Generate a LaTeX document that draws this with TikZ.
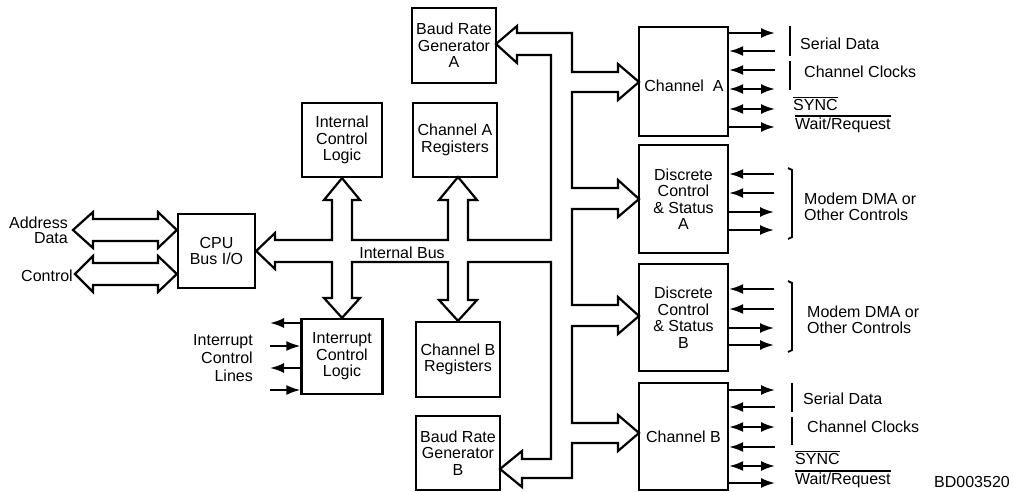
\documentclass[tikz,border=0pt]{standalone}
\usepackage{fontspec}
\setmainfont{Liberation Sans}
\usetikzlibrary{arrows.meta}
\newcommand\myovl[1]{\leavevmode\vbox{\hrule height 1.4pt\kern1.4pt\hbox{#1}}}
\begin{document}
\begin{tikzpicture}[x=1pt,y=-1pt,
  every node/.style={font=\fontsize{16}{16.5}\selectfont, inner sep=0pt},
  blk/.style={draw, line width=2.3pt, align=center},
  bus/.style={draw, line width=2.2pt, line join=miter},
  lbl/.style={anchor=west},
  sigo/.style={line width=2pt, -{Latex[length=14pt,width=10pt]}},
  sigi/.style={line width=2pt, {Latex[length=14pt,width=10pt]}-},
  sigb/.style={line width=2pt, {Latex[length=14pt,width=10pt]}-{Latex[length=14pt,width=10pt]}},
  brk/.style={line width=1.8pt}
]
\useasboundingbox (0,0) rectangle (1014,492);

% boxes
\node[blk, minimum width=77, minimum height=74] (cpu) at (216.5,251) {CPU\\Bus I/O};
\node[blk, minimum width=80, minimum height=74] (icl) at (342,140) {Internal\\Control\\Logic};
\node[blk, minimum width=84, minimum height=74] (car) at (455,140) {Channel A\\Registers};
\node[blk, minimum width=84, minimum height=75] (brga) at (454,45.5) {Baud Rate\\Generator\\A};
\node[blk, minimum width=81, minimum height=75] (int) at (342,356.5) {Interrupt\\Control\\Logic};
\node[blk, minimum width=84, minimum height=75] (cbr) at (458,359.5) {Channel B\\Registers};
\node[blk, minimum width=84, minimum height=74] (brgb) at (458,453) {Baud Rate\\Generator\\B};
\node[blk, minimum width=89, minimum height=109] (cha) at (683.5,81.5) {};
\node (chat) at (684,86) {Channel\ \ A};
\node[blk, minimum width=89, minimum height=108] (dca) at (683.5,199) {Discrete\\Control\\\& Status\\A};
\node[blk, minimum width=89, minimum height=107] (dcb) at (683.5,317.5) {Discrete\\Control\\\& Status\\B};
\node[blk, minimum width=89, minimum height=107] (chb) at (683.5,436.5) {Channel B};

% external CPU buses
\draw[bus] (73,230) -- (93,212) -- (93,219) -- (158,219) -- (158,212) -- (cpu.west |- 0,230)
  -- (158,248) -- (158,241) -- (93,241) -- (93,248) -- cycle;
\draw[bus] (75,274) -- (93,256) -- (93,263) -- (158,263) -- (158,256) -- (cpu.west |- 0,274)
  -- (158,292) -- (158,285) -- (93,285) -- (93,292) -- cycle;

% internal bus
\draw[bus] (275,240) -- (332,240) -- (332,200) -- (324,200) -- (icl.south) -- (360,200) -- (352,200)
  -- (352,240) -- (448,240) -- (448,200) -- (439,200) -- (458,177) -- (477,200) -- (468,200)
  -- (468,240) -- (551,240) -- (551,55) -- (517,55) -- (517,63) -- (496,44) -- (517,26) -- (517,33)
  -- (572,33) -- (572,72) -- (618,72) -- (618,64) -- (639,82) -- (618,100) -- (618,92) -- (572,92)
  -- (572,188) -- (618,188) -- (618,180) -- (639,199) -- (618,217) -- (618,209) -- (572,209)
  -- (572,305) -- (618,305) -- (618,297) -- (639,316) -- (618,334) -- (618,326) -- (572,326)
  -- (572,423) -- (618,423) -- (618,415) -- (639,433) -- (618,451) -- (618,443) -- (572,443)
  -- (572,478) -- (522,478) -- (522,487) -- (500,469) -- (522,451) -- (522,459) -- (551,459)
  -- (551,262) -- (468,262) -- (468,300) -- (477,300) -- (cbr.north) -- (439,300) -- (448,300)
  -- (448,262) -- (352,262) -- (352,298) -- (360,298) -- (int.north) -- (324,298) -- (332,298)
  -- (332,262) -- (275,262) -- (275,269) -- (cpu.east) -- (275,233) -- cycle;

% labels left
\node[anchor=east, align=right, font=\fontsize{16}{15}\selectfont] (adl) at (68,230) {Address\\Data};
\node[anchor=east] (ctl) at (73,276) {Control};
\node[anchor=east, align=right, font=\fontsize{16}{18}\selectfont] (irl) at (253,358) {Interrupt\\Control\\Lines};
\node (ibus) at (402,253) {Internal Bus};

% interrupt lines
\foreach \y/\s [count=\i] in {323/i,346/o,368/i,390/o}{
  \coordinate (iE\i) at (270,\y);
  \draw[sig\s] (iE\i) -- (int.west |- iE\i);
}

% Channel A lines
\foreach \y/\s [count=\i] in {33/o,51/i,70/i,89/b,109/b,127/o}{
  \coordinate (caE\i) at (775,\y);
  \draw[sig\s] (cha.east |- caE\i) -- (caE\i);
}
% Discrete A
\foreach \y/\s [count=\i] in {174/i,193/i,212/o,230/o}{
  \coordinate (daE\i) at (774,\y);
  \draw[sig\s] (dca.east |- daE\i) -- (daE\i);
}
% Discrete B
\foreach \y/\s [count=\i] in {289/i,309/i,328/o,345/o}{
  \coordinate (dbE\i) at (774,\y);
  \draw[sig\s] (dcb.east |- dbE\i) -- (dbE\i);
}
% Channel B
\foreach \y/\s [count=\i] in {390/o,407/i,427/b,447/i,466/b,483/o}{
  \coordinate (cbE\i) at (775,\y);
  \draw[sig\s] (chb.east |- cbE\i) -- (cbE\i);
}

% brackets
\draw[brk] (790,26) -- (790,56);
\draw[brk] (790,61) -- (790,90);
\draw[brk] (788,168) -- (792,170) -- (792,237) -- (788,239);
\draw[brk] (788,281) -- (792,283) -- (792,350) -- (788,352);
\draw[brk] (792,383) -- (792,412);
\draw[brk] (792,417) -- (792,445);

% right labels
\node[lbl] (sda) at (800,44) {Serial Data};
\node[lbl] (cca) at (804,72) {Channel Clocks};
\node[lbl] (sya) at (793,104) {\myovl{SYNC}};
\node[lbl] (wra) at (795,124) {\myovl{Wait/Request}};
\node[lbl, align=left, font=\fontsize{16}{15.5}\selectfont] (moa) at (804,207) {Modem DMA or\\Other Controls};
\node[lbl, align=left, font=\fontsize{16}{15.5}\selectfont] (mob) at (807,320) {Modem DMA or\\Other Controls};
\node[lbl] (sdb) at (803,399) {Serial Data};
\node[lbl] (ccb) at (807,427) {Channel Clocks};
\node[lbl] (syb) at (795,458) {\myovl{SYNC}};
\node[lbl] (wrb) at (795,479) {\myovl{Wait/Request}};
\node[anchor=east] (bd) at (1010,482) {BD003520};
\end{tikzpicture}
\end{document}
